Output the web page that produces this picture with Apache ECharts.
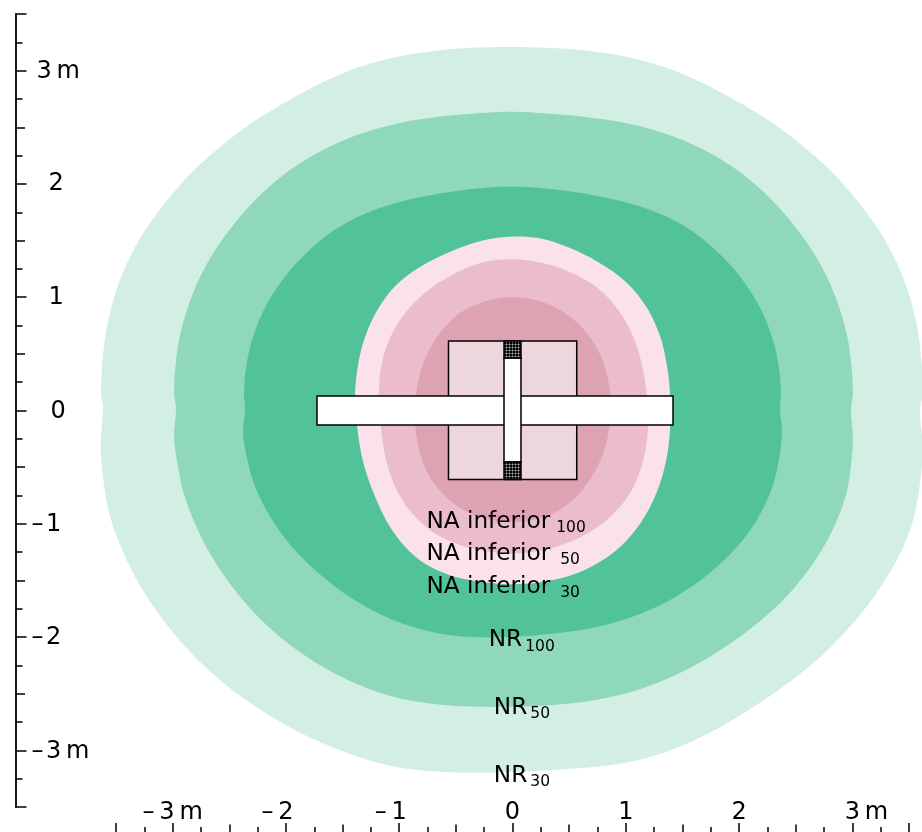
<!DOCTYPE html>
<html><head><meta charset="utf-8">
<style>html,body{margin:0;padding:0;background:#fff}#c{width:922px;height:832px}</style>
<script src="https://cdn.jsdelivr.net/npm/echarts@6/dist/echarts.min.js"></script>
</head><body><div id="c"></div>
<script>
// All coordinates in metres.
const nr30 = [[0,3.195],[.243,3.204],[.640,3.182],[1.019,3.129],[1.319,3.032],[1.673,2.890],[2.026,2.714],[2.379,2.476],[2.679,2.237],[2.943,1.973],[3.173,1.681],[3.350,1.390],[3.482,1.090],[3.570,.772],[3.614,.446],[3.623,.154],[3.597,.004],[3.623,-.322],[3.614,-.640],[3.535,-.966],[3.420,-1.258],[3.244,-1.584],[3.005,-1.876],[2.740,-2.141],[2.449,-2.405],[2.096,-2.644],[1.717,-2.847],[1.364,-3.014],[1.125,-3.085],[.772,-3.138],[.375,-3.173],[0,-3.182],[-.419,-3.199],[-.728,-3.182],[-1.037,-3.147],[-1.328,-3.067],[-1.681,-2.935],[-2.034,-2.758],[-2.361,-2.555],[-2.652,-2.317],[-2.917,-2.052],[-3.155,-1.761],[-3.332,-1.470],[-3.464,-1.169],[-3.570,-.878],[-3.623,-.587],[-3.641,-.322],[-3.614,.022],[-3.632,.154],[-3.623,.446],[-3.579,.772],[-3.491,1.090],[-3.358,1.390],[-3.182,1.681],[-2.952,1.973],[-2.687,2.237],[-2.387,2.476],[-2.034,2.714],[-1.681,2.890],[-1.328,3.032],[-1.037,3.129],[-.640,3.186],[-.260,3.204]];
const nr50 = [[0,2.617],[.243,2.626],[.640,2.599],[1.054,2.520],[1.408,2.432],[1.761,2.273],[2.052,2.061],[2.317,1.831],[2.538,1.567],[2.732,1.267],[2.864,.975],[2.952,.684],[2.997,.384],[3.005,.154],[2.988,.004],[3.005,-.234],[2.997,-.463],[2.952,-.728],[2.864,-.966],[2.732,-1.231],[2.564,-1.470],[2.361,-1.699],[2.123,-1.911],[1.831,-2.114],[1.478,-2.317],[1.125,-2.467],[.772,-2.555],[.375,-2.599],[0,-2.599],[-.375,-2.617],[-.728,-2.590],[-1.037,-2.529],[-1.363,-2.423],[-1.681,-2.264],[-1.981,-2.052],[-2.246,-1.823],[-2.476,-1.558],[-2.652,-1.293],[-2.802,-.993],[-2.908,-.728],[-2.961,-.463],[-2.988,-.234],[-2.970,.022],[-2.988,.154],[-2.979,.384],[-2.935,.684],[-2.846,.975],[-2.714,1.267],[-2.520,1.567],[-2.299,1.831],[-2.034,2.061],[-1.743,2.273],[-1.390,2.432],[-1.037,2.520],[-.640,2.608],[-.243,2.626]];
const nr100 = [[0,1.964],[.243,1.964],[.640,1.920],[1.037,1.831],[1.275,1.743],[1.505,1.620],[1.770,1.443],[2.008,1.214],[2.185,.914],[2.299,.622],[2.361,.357],[2.370,.154],[2.361,.004],[2.379,-.172],[2.361,-.437],[2.291,-.702],[2.158,-.966],[1.981,-1.205],[1.743,-1.425],[1.452,-1.646],[1.125,-1.796],[.772,-1.911],[.375,-1.973],[0,-1.982],[-.375,-1.991],[-.728,-1.964],[-1.037,-1.867],[-1.417,-1.655],[-1.717,-1.434],[-1.946,-1.205],[-2.140,-.940],[-2.273,-.675],[-2.343,-.437],[-2.379,-.199],[-2.361,.004],[-2.370,.154],[-2.361,.357],[-2.299,.622],[-2.184,.914],[-2.008,1.214],[-1.770,1.443],[-1.505,1.620],[-1.275,1.743],[-1.037,1.831],[-.640,1.929],[-.243,1.964]];
const na30 = [[0,1.515],[.198,1.52],[.468,1.465],[.772,1.315],[1.037,1.090],[1.187,.913],[1.302,.684],[1.372,.357],[1.390,.154],[1.381,-.004],[1.390,-.172],[1.364,-.437],[1.275,-.728],[1.125,-1.011],[.905,-1.258],[.640,-1.408],[.331,-1.505],[0,-1.523],[-.331,-1.514],[-.640,-1.426],[-.861,-1.276],[-1.037,-1.099],[-1.231,-.764],[-1.328,-.437],[-1.372,-.146],[-1.381,-.004],[-1.390,.154],[-1.372,.357],[-1.302,.684],[-1.187,.913],[-1.037,1.070],[-.816,1.276],[-.552,1.420],[-.243,1.505]];
const na50 = [[0,1.311],[.198,1.311],[.508,1.231],[.772,1.081],[.966,.843],[1.125,.534],[1.187,.137],[1.196,-.172],[1.143,-.463],[1.010,-.772],[.772,-1.037],[.464,-1.196],[0,-1.258],[-.375,-1.231],[-.684,-1.099],[-.905,-.878],[-1.037,-.658],[-1.108,-.437],[-1.161,-.146],[-1.179,.154],[-1.152,.446],[-1.037,.737],[-.816,1.037],[-.508,1.240],[-.199,1.302]];
const na100 = [[0,.97],[.24,.96],[.51,.87],[.73,.62],[.83,.31],[.85,0],[.83,-.35],[.68,-.66],[.46,-.85],[.20,-.95],[0,-.97],[-.29,-.94],[-.55,-.83],[-.73,-.61],[-.83,-.30],[-.85,0],[-.82,.36],[-.68,.67],[-.46,.89],[-.20,.96]];

// Rectangles [xMin, xMax, yMin, yMax], metres
const squareRect = [-.565,.567,-.609,.613];
const wideBar = [-1.726,1.417,-.128,.128];
const narrowBar = [-.075,.075,-.455,.463];
const capRects = [[-.075,.075,.463,.613],[-.075,.075,-.609,-.455]];

const labelNames = ['NA inferior','NA inferior','NA inferior','NR','NR','NR'];
const labelSubs = ['100','50','30','100','50','30'];
const labelX = [-.76,-.76,-.76,-.21,-.165,-.165];
const labelY = [-.98,-1.27,-1.56,-2.03,-2.63,-3.23];

const majorTicks = [-3.5,-3,-2,-1,0,1,2,3,3.5];
const midTicks = [-2.5,-1.5,-.5,.5,1.5,2.5];
const minorTicks = [-3.25,-2.75,-2.25,-1.75,-1.25,-.75,-.25,.25,.75,1.25,1.75,2.25,2.75,3.25];
const labelTicks = [-3,-2,-1,0,1,2,3];
const xTickText = ['\u2013\u20093\u2009m','\u2013\u20092','\u2013\u20091','0','1','2','3\u2009m'];
const yTickText = ['\u2013\u200a3\u2009m','\u2013\u200a2','\u2013\u200a1','0','1','2','3\u2009m'];

const FONT = 'DejaVu Sans';
const pat = document.createElement('canvas');
pat.width = pat.height = 3;
(function(){const g=pat.getContext('2d');g.fillStyle='#000';g.fillRect(0,0,3,3);g.fillStyle='#555';g.fillRect(2,0,1,3);g.fillRect(0,2,3,1);g.fillStyle='#aaa';g.fillRect(2,2,1,1);})();

// Evens out the reading error of hand-read outline points (closed curve); the side notches stay put.
const KERNEL = [-2,3,6,7,6,3,-2].map(k=>k/21);
function evenOut(pts){
  const n=pts.length, h=(KERNEL.length-1)/2;
  return pts.map((p,i)=>{
    if(Math.abs(p[1])<.25 && Math.abs(p[0])>1) return p;
    let x=0,y=0;
    KERNEL.forEach((k,j)=>{const q=pts[(i+j-h+n)%n];x+=k*q[0];y+=k*q[1];});
    return [x,y];
  });
}
function polySeries(name, pts, color){
  const shown = evenOut(pts);
  return {type:'custom',name,coordinateSystem:'cartesian2d',clip:false,silent:true,data:pts,
    encode:{x:0,y:1},
    renderItem(p,api){
      if(p.dataIndex!==0) return null;
      return {type:'polygon',shape:{points:shown.map(q=>api.coord(q)),smooth:0.34},style:{fill:color,stroke:null}};
    }};
}
function rectSeries(name, rects, fill, lw){
  return {type:'custom',name,coordinateSystem:'cartesian2d',clip:false,silent:true,data:rects,
    encode:{x:[0,1],y:[2,3]},
    renderItem(p,api){
      const a=api.coord([api.value(0),api.value(3)]), b=api.coord([api.value(1),api.value(2)]);
      return {type:'rect',shape:{x:a[0],y:a[1],width:b[0]-a[0],height:b[1]-a[1]},style:{fill,stroke:'#000',lineWidth:lw}};
    }};
}
function baseAxis(extra){return Object.assign({type:'value',min:-3.5,max:3.5,interval:.25,splitLine:{show:false},silent:true},extra);}
function tickAxis(pos,off,vals,len,line,label){
  return baseAxis({position:pos,offset:off,
    axisLine:{show:line,onZero:false,lineStyle:{color:'#000',width:1.8}},
    axisTick:{show:true,inside:true,length:len,customValues:vals,lineStyle:{color:'#000',width:1.5}},
    axisLabel:label||{show:false}});
}
const textBase = {color:'#000',fontFamily:FONT,fontSize:24};
const xLabel = {show:true,inside:true,margin:9,customValues:labelTicks,hideOverlap:false,
  formatter:v=>{const i=labelTicks.indexOf(v);const t=xTickText[i];
    const k=v===-3?'c':v===3?'r':v<0?'l':'c';return `{${k}|${t}}`;},
  rich:{c:textBase,l:Object.assign({padding:[0,17,0,0]},textBase),r:Object.assign({padding:[0,0,0,28]},textBase)}};
const yLabel = {show:true,inside:true,margin:14,customValues:labelTicks,hideOverlap:false,align:'left',
  formatter:v=>{const i=labelTicks.indexOf(v);const t=yTickText[i];
    const k=v<0?'n':v===3?'m':v===2?'t':v===1?'o':'z';return `{${k}|${t}}`;},
  rich:{n:Object.assign({padding:[2,0,0,2]},textBase),m:Object.assign({padding:[2,0,0,7]},textBase),t:Object.assign({padding:[0,0,0,19]},textBase),
        o:Object.assign({padding:[2,0,0,19]},textBase),z:Object.assign({padding:[3,0,0,21]},textBase)}};

const subBase = {color:'#000',fontFamily:FONT,fontSize:15.5};
const mainText = {color:'#000',fontFamily:FONT,fontSize:23.2};
const labelData = labelNames.map((n,i)=>({value:[labelX[i],labelY[i]],name:n,sub:labelSubs[i]}));
const option = {
  animation:false,backgroundColor:'#fff',
  grid:{left:116,right:13,top:14,bottom:25,containLabel:false},
  xAxis:[tickAxis('bottom',27,majorTicks,11,true,xLabel),tickAxis('bottom',27,midTicks,9.5,false),tickAxis('bottom',27,minorTicks,7,false)],
  yAxis:[tickAxis('left',100.5,majorTicks,11,true,yLabel),tickAxis('left',100.5,midTicks,9.5,false),tickAxis('left',100.5,minorTicks,7,false)],
  series:[
    polySeries('NR30',nr30,'#d3efe3'),polySeries('NR50',nr50,'#8fd8bc'),polySeries('NR100',nr100,'#52c398'),
    polySeries('NA30',na30,'#fae1ec'),polySeries('NA50',na50,'#ebbdcc'),polySeries('NA100',na100,'#dda3b2'),
    rectSeries('square',[squareRect],'#eed7dc',1.5),
    rectSeries('wide',[wideBar],'#fff',1.5),
    rectSeries('narrow',[narrowBar],'#fff',1.5),
    rectSeries('caps',capRects,{image:pat,repeat:'repeat'},1.5),
    {type:'scatter',name:'labels',symbolSize:0,silent:true,clip:false,z:10,data:labelData,itemStyle:{opacity:1},
     label:{show:true,position:'right',distance:0,opacity:1,
       formatter:p=>{const d=labelData[p.dataIndex];const k=d.name==='NR'?'s3':(d.sub==='100'?'s6':'s10');return `{m|${d.name}}{${k}|${d.sub}}`;},
       rich:{m:mainText,
         s3:Object.assign({padding:[12,0,0,3]},subBase),
         s6:Object.assign({padding:[12,0,0,6]},subBase),
         s10:Object.assign({padding:[12,0,0,10]},subBase)}}}
  ]
};
const chart = echarts.init(document.getElementById('c'),null,{renderer:'canvas'});
chart.setOption(option);
</script></body></html>
